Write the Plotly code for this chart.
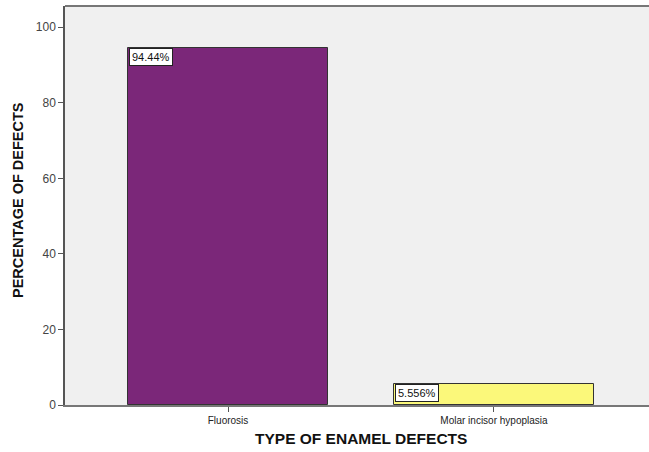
import plotly.graph_objects as go

categories = ["Fluorosis", "Molar incisor hypoplasia"]
values = [94.44, 5.556]
labels = ["94.44%", "5.556%"]
colors = ["#7B2779", "#FBF87A"]
y_ticks = [0, 20, 40, 60, 80, 100]

bar_width = 0.75
W, H = 649, 452
ML, MR, MT, MB = 65, 0, 6, 47
pw, ph = W - ML - MR, H - MT - MB

fig = go.Figure()
fig.add_trace(go.Bar(
    x=[0, 1], y=values, width=bar_width,
    marker=dict(color=colors, line=dict(color="#333333", width=1)),
    hoverinfo="skip",
))

for i, (v, lab) in enumerate(zip(values, labels)):
    fig.add_annotation(
        x=i - bar_width / 2, y=v, xref="x", yref="y",
        text=lab, showarrow=False, xanchor="left", yanchor="top",
        bgcolor="white", bordercolor="#222222", borderwidth=1, borderpad=2,
        font=dict(family="Arial, Liberation Sans", size=11, color="#111111"),
        xshift=1,
    )

fig.add_annotation(
    xref="paper", yref="paper", x=(361 - ML) / pw, y=(H - MB - 439) / ph,
    xanchor="center", yanchor="middle",
    text="<b>TYPE OF ENAMEL DEFECTS</b>",
    showarrow=False, font=dict(size=15.5, color="#111111"),
)
fig.add_annotation(
    xref="paper", yref="paper", x=(18 - ML) / pw, y=(H - MB - 200) / ph,
    xanchor="center", yanchor="middle",
    text="<b>PERCENTAGE OF DEFECTS</b>", textangle=-90,
    showarrow=False, font=dict(size=14.5, color="#111111"),
)

fig.update_layout(
    width=W, height=H,
    margin=dict(l=ML, r=MR, t=MT, b=MB),
    paper_bgcolor="white", plot_bgcolor="#F0F0F0",
    showlegend=False,
    bargap=0,
    font=dict(family="Arial, Liberation Sans"),
)

fig.update_xaxes(
    range=[-0.613, 1.583], automargin=False,
    tickvals=[0, 1], ticktext=categories,
    ticks="outside", ticklen=5, tickcolor="#555555",
    tickfont=dict(size=10, color="#222222"),
    showline=True, linecolor="#777777", linewidth=2,
    showgrid=False, zeroline=False,
)
fig.update_yaxes(
    range=[0, 105.6], automargin=False,
    tickvals=y_ticks,
    ticks="outside", ticklen=5, tickcolor="#555555",
    tickfont=dict(size=12, color="#444444"),
    showline=True, linecolor="#555555", linewidth=1.5,
    showgrid=False, zeroline=False,
)
fig.add_shape(type="line", xref="paper", yref="paper", x0=0, x1=1, y0=1, y1=1,
              line=dict(color="#777777", width=2))

fig.write_html(
    "out.html",
    config={"displayModeBar": False},
    post_script="document.body.style.margin='0';document.body.style.overflow='hidden';"
                "Plotly.Plots.resize(document.getElementById('{plot_id}'));",
)
